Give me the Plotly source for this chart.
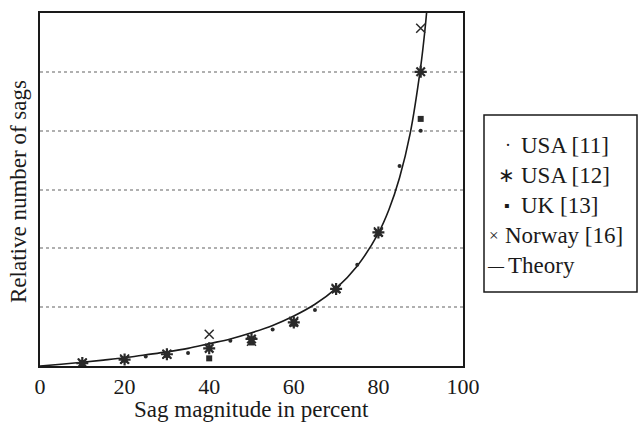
import plotly.graph_objects as go

# Sag magnitude (percent) and relative number of sags per survey
mag_usa11 = [25, 35, 45, 55, 65, 75, 85, 90]
val_usa11 = [0.16, 0.22, 0.43, 0.62, 0.95, 1.72, 3.40, 4.00]

mag_usa12 = [10, 20, 30, 40, 50, 60, 70, 80, 90]
val_usa12 = [0.05, 0.11, 0.20, 0.30, 0.46, 0.74, 1.31, 2.27, 5.00]

mag_uk13 = [10, 20, 30, 40, 50, 60, 70, 80, 90]
val_uk13 = [0.05, 0.11, 0.19, 0.13, 0.40, 0.72, 1.30, 2.26, 4.20]

mag_nor16 = [10, 20, 30, 40, 50, 60, 70, 80, 90]
val_nor16 = [0.05, 0.12, 0.20, 0.54, 0.42, 0.76, 1.32, 2.28, 5.74]

# Theoretical curve
mag_theory = [0, 5, 10, 15, 20, 25, 30, 35, 40, 45, 50, 55, 60, 65, 70, 75,
              80, 82.5, 85, 87.5, 90, 91, 92]
val_theory = [0.0, 0.03, 0.063, 0.10, 0.14, 0.19, 0.24, 0.30, 0.38, 0.46, 0.565,
              0.69, 0.85, 1.05, 1.32, 1.70, 2.26, 2.66, 3.20, 3.95, 5.09, 5.71, 6.50]

legend_labels = ["USA [11]", "USA [12]", "UK [13]", "Norway [16]", "Theory"]
legend_symbols = ["\u00b7", "\u2217", "\u25aa", "\u00d7", "\u2014"]

FONT = "Liberation Serif, Times New Roman, serif"
INK = "#1a1a1a"
MARK = "#2a2a2a"

W, H = 641, 423
L, R, T, B = 40, 178, 13, 57
PW, PH = W - L - R, H - T - B


def px_x(px):
    return (px - L) / PW


def px_y(py):
    return (H - B - py) / PH


fig = go.Figure()

fig.add_trace(go.Scatter(x=mag_theory, y=val_theory, mode="lines",
                         line=dict(color=INK, width=1.6, shape="spline"),
                         name="Theory"))
fig.add_trace(go.Scatter(x=mag_uk13, y=val_uk13, mode="markers",
                         marker=dict(symbol="square", size=6, color=MARK),
                         name="UK [13]"))
fig.add_trace(go.Scatter(x=mag_usa12, y=val_usa12, mode="markers",
                         marker=dict(symbol="asterisk-open", size=10, color=MARK,
                                     line=dict(color=MARK, width=2.2)),
                         name="USA [12]"))
fig.add_trace(go.Scatter(x=mag_nor16, y=val_nor16, mode="markers",
                         marker=dict(symbol="x-thin-open", size=9, color=MARK,
                                     line=dict(color=MARK, width=1.5)),
                         name="Norway [16]"))
fig.add_trace(go.Scatter(x=mag_usa11, y=val_usa11, mode="markers",
                         marker=dict(symbol="circle", size=4, color=MARK),
                         name="USA [11]"))

annotations = [
    dict(text="Sag magnitude in percent", xref="paper", yref="paper",
         x=0.5, y=px_y(409), xanchor="center", yanchor="middle",
         showarrow=False, font=dict(family=FONT, size=23, color=INK)),
    dict(text="Relative number of sags", xref="paper", yref="paper",
         x=px_x(19), y=px_y(192), xanchor="center", yanchor="middle",
         textangle=-90, showarrow=False,
         font=dict(family=FONT, size=23, color=INK)),
]

# Hand-built key box at the right of the plot
row_y = [145, 175, 205, 235, 265]
sym_x = [503, 496, 502, 487, 485]
sym_size = [18, 20, 16, 17, 16]
txt_x = [519, 519, 519, 503, 506]
for lab, sym, sx, ss, tx, ry in zip(legend_labels, legend_symbols, sym_x,
                                    sym_size, txt_x, row_y):
    annotations.append(dict(text=sym, xref="paper", yref="paper",
                            x=px_x(sx), y=px_y(ry), xanchor="left", yanchor="middle",
                            showarrow=False,
                            font=dict(family=FONT, size=ss, color=INK)))
    annotations.append(dict(text=lab, xref="paper", yref="paper",
                            x=px_x(tx), y=px_y(ry), xanchor="left", yanchor="middle",
                            showarrow=False,
                            font=dict(family=FONT, size=23, color=INK)))

shapes = [dict(type="rect", xref="paper", yref="paper",
               x0=px_x(484), x1=px_x(637), y0=px_y(292), y1=px_y(115),
               line=dict(color=INK, width=1.5), fillcolor="rgba(0,0,0,0)")]

fig.update_layout(
    width=W, height=H,
    margin=dict(l=L, r=R, t=T, b=B),
    paper_bgcolor="white", plot_bgcolor="white",
    showlegend=False,
    font=dict(family=FONT, size=22, color=INK),
    annotations=annotations,
    shapes=shapes,
)

fig.update_xaxes(range=[0, 100], tickvals=[0, 20, 40, 60, 80, 100],
                 ticks="", showgrid=False, zeroline=False,
                 showline=True, linecolor=INK, linewidth=1.6, mirror=True,
                 tickfont=dict(family=FONT, size=22, color=INK))
fig.update_yaxes(range=[0, 6], tickvals=[1, 2, 3, 4, 5], showticklabels=False,
                 ticks="", showgrid=True, gridcolor="#b0b0b0", gridwidth=1.5,
                 griddash="dot", zeroline=False,
                 showline=True, linecolor=INK, linewidth=1.6, mirror=True)

fig.write_html("out.html")
